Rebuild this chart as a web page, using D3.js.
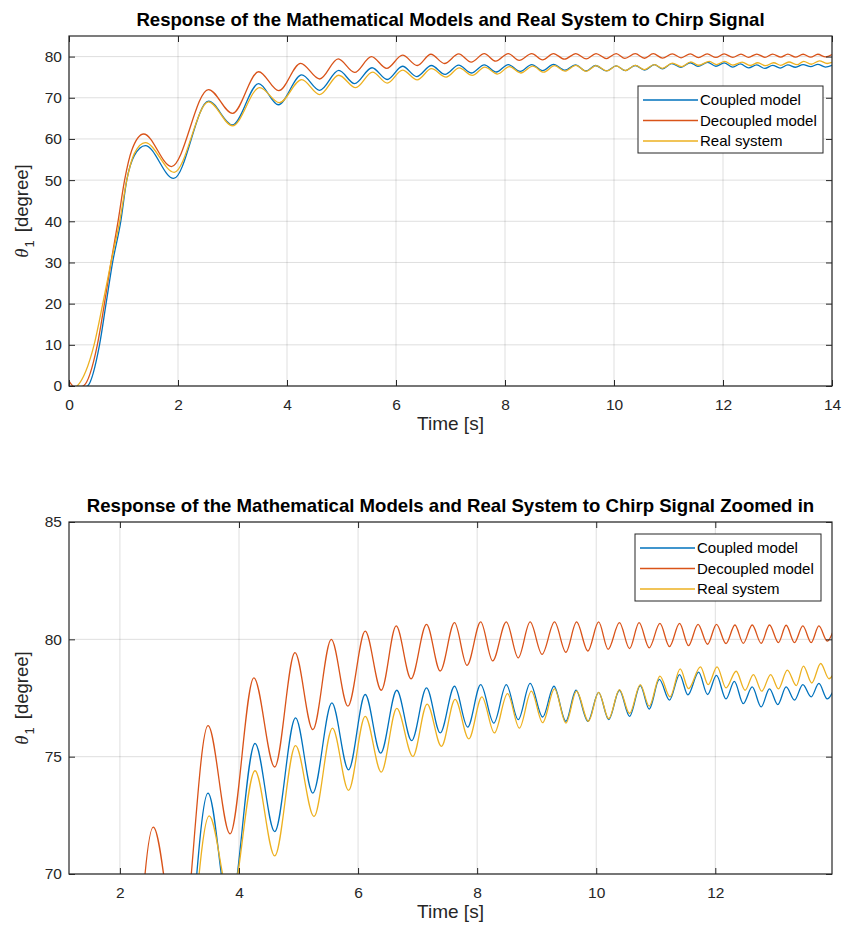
<!DOCTYPE html>
<html>
<head>
<meta charset="utf-8">
<script src="https://cdn.jsdelivr.net/npm/d3@7"></script>
<style>
  body { margin: 0; background: #fff; }
  text { font-family: "Liberation Sans", Arial, sans-serif; }
</style>
</head>
<body>
<svg id="chart" width="843" height="931"></svg>
<script>
// values, [time s, theta1 deg] at turning points
const coupled = [
  [0,-1.5],[0.34,0],[0.56,10],[0.68,20],[0.8,30],[0.95,40],[1.06,50],[1.2,56],[1.4,58.4],
  [1.92,50.4],[2.56,69.2],[3.0,63.4],[3.48,73.45],[3.84,68.3],[4.27,75.56],[4.6,71.81],
  [4.95,76.65],[5.24,73.45],[5.56,77.29],[5.84,74.44],[6.12,77.65],[6.38,75.15],[6.65,77.83],
  [6.9,75.68],[7.15,77.93],[7.38,76.01],[7.62,78.0],[7.84,76.26],[8.06,78.07],[8.28,76.43],
  [8.49,78.07],[8.69,76.58],[8.89,78.12],[9.1,76.69],[9.29,78.0],[9.49,76.51],[9.66,77.83],
  [9.86,76.51],[10.04,77.74],[10.21,76.58],[10.39,77.83],[10.56,76.72],[10.74,78.03],
  [10.89,77.03],[11.06,78.29],[11.23,77.41],[11.4,78.5],[11.54,77.63],[11.72,78.6],
  [11.87,77.65],[12.02,78.46],[12.18,77.46],[12.32,78.21],[12.47,77.26],[12.62,77.97],
  [12.77,77.12],[12.91,77.89],[13.05,77.22],[13.19,77.97],[13.33,77.41],[13.47,78.07],
  [13.61,77.55],[13.74,78.12],[13.88,77.46],[14.0,77.9]
]
const decoupled = [
  [0,1.2],[0.12,-0.4],[0.26,0],[0.52,10],[0.65,20],[0.77,30],[0.9,40],[1.02,50],[1.15,57.2],
  [1.37,61.2],[1.88,53.3],[2.56,72.0],[3.0,66.2],[3.48,76.32],[3.85,71.71],[4.25,78.36],
  [4.6,74.56],[4.94,79.43],[5.24,76.15],[5.55,80.0],[5.83,77.15],[6.12,80.35],[6.39,77.83],
  [6.64,80.57],[6.89,78.32],[7.15,80.64],[7.38,78.65],[7.62,80.71],[7.83,78.89],[8.06,80.74],
  [8.26,79.08],[8.49,80.74],[8.69,79.21],[8.89,80.74],[9.09,79.36],[9.3,80.74],[9.49,79.45],
  [9.67,80.74],[9.86,79.5],[10.04,80.74],[10.2,79.57],[10.39,80.71],[10.56,79.6],[10.72,80.71],
  [10.89,79.64],[11.07,80.68],[11.23,79.69],[11.4,80.68],[11.55,79.73],[11.71,80.64],
  [11.87,79.79],[12.02,80.64],[12.18,79.82],[12.33,80.61],[12.47,79.83],[12.62,80.61],
  [12.77,79.83],[12.91,80.61],[13.06,79.86],[13.19,80.6],[13.33,79.86],[13.47,80.57],
  [13.61,79.86],[13.74,80.57],[13.88,79.92],[14.0,80.5]
]
const realSystem = [
  [0,-1],[0.15,0],[0.46,10],[0.62,20],[0.77,30],[0.93,40],[1.06,50],[1.2,56.5],[1.4,59.1],
  [1.93,51.9],[2.56,69.0],[3.0,63.2],[3.5,72.48],[3.86,68.8],[4.27,74.4],[4.6,70.77],
  [4.95,75.47],[5.26,72.45],[5.57,76.22],[5.84,73.56],[6.12,76.72],[6.39,74.34],[6.65,77.06],
  [6.92,75.01],[7.16,77.24],[7.4,75.44],[7.63,77.44],[7.86,75.76],[8.08,77.55],[8.29,76.01],
  [8.51,77.69],[8.71,76.22],[8.91,77.79],[9.1,76.45],[9.3,77.89],[9.49,76.43],[9.67,77.79],
  [9.87,76.51],[10.04,77.74],[10.21,76.62],[10.39,77.86],[10.56,76.84],[10.74,78.07],
  [10.89,77.15],[11.07,78.43],[11.24,77.55],[11.41,78.74],[11.55,77.9],[11.75,78.83],
  [11.88,78.07],[12.03,78.83],[12.18,77.93],[12.35,78.64],[12.5,77.83],[12.64,78.5],
  [12.78,77.79],[12.93,78.5],[13.06,77.89],[13.21,78.69],[13.36,78.03],[13.48,78.86],
  [13.62,78.14],[13.77,78.97],[13.91,78.32],[14.0,78.6]
]

const seriesNames = ["Coupled model", "Decoupled model", "Real system"]
const seriesColors = ["#0072BD", "#D95319", "#EDB120"]
const seriesData = [coupled, decoupled, realSystem]

const topXTicks = [0, 2, 4, 6, 8, 10, 12, 14]
const topYTicks = [0, 10, 20, 30, 40, 50, 60, 70, 80]
const zoomXTicks = [2, 4, 6, 8, 10, 12]
const zoomYTicks = [70, 75, 80, 85]

const axisColor = "#262626"
const svg = d3.select("#chart")

// one MATLAB-style axes box with grid, inward ticks, legend
function drawPanel(opts) {
  const {id, left, right, top, bottom, xDomain, yDomain, xTicks, yTicks, title, legendBox} = opts
  const x = d3.scaleLinear().domain(xDomain).range([left, right])
  const y = d3.scaleLinear().domain(yDomain).range([bottom, top])
  const g = svg.append("g").attr("class", "panel-" + id)

  // grid
  g.append("g").selectAll("line").data(xTicks).join("line")
    .attr("x1", d => x(d)).attr("x2", d => x(d)).attr("y1", top).attr("y2", bottom)
    .attr("stroke", axisColor).attr("stroke-opacity", 0.15)
  g.append("g").selectAll("line").data(yTicks).join("line")
    .attr("y1", d => y(d)).attr("y2", d => y(d)).attr("x1", left).attr("x2", right)
    .attr("stroke", axisColor).attr("stroke-opacity", 0.15)

  // data lines, clipped to the box
  g.append("clipPath").attr("id", "clip-" + id)
    .append("rect").attr("x", left).attr("y", top).attr("width", right - left).attr("height", bottom - top)
  const line = d3.line().x(d => x(d[0])).y(d => y(d[1])).curve(d3.curveMonotoneX)
  g.append("g").attr("clip-path", `url(#clip-${id})`)
    .selectAll("path").data(seriesData).join("path")
      .attr("d", line)
      .attr("fill", "none")
      .attr("stroke", (_, i) => seriesColors[i])
      .attr("stroke-width", 1.3)

  // axes: bottom/left with labels, top/right ticks only
  const tk = 6
  g.append("g").attr("transform", `translate(0,${bottom})`)
    .call(d3.axisBottom(x).tickValues(xTicks).tickSizeInner(-tk).tickSizeOuter(0).tickPadding(13))
  g.append("g").attr("transform", `translate(${left},0)`)
    .call(d3.axisLeft(y).tickValues(yTicks).tickSizeInner(-tk).tickSizeOuter(0).tickPadding(7))
  g.append("g").attr("transform", `translate(0,${top})`)
    .call(d3.axisTop(x).tickValues(xTicks).tickSizeInner(-tk).tickSizeOuter(0).tickFormat(""))
  g.append("g").attr("transform", `translate(${right},0)`)
    .call(d3.axisRight(y).tickValues(yTicks).tickSizeInner(-tk).tickSizeOuter(0).tickFormat(""))
  g.selectAll(".domain").remove()
  g.selectAll(".tick line").attr("stroke", axisColor)
  g.selectAll(".tick text").attr("fill", axisColor).style("font-size", "15.5px")
    .style("font-family", "'Liberation Sans', Arial, sans-serif")

  g.append("rect").attr("x", left).attr("y", top).attr("width", right - left).attr("height", bottom - top)
    .attr("fill", "none").attr("stroke", axisColor).attr("stroke-width", 1.2)

  // title and labels
  g.append("text").attr("x", (left + right) / 2).attr("y", top - 10)
    .attr("text-anchor", "middle").attr("fill", "#000")
    .style("font-size", "18.6px").style("font-weight", "bold").text(title)
  g.append("text").attr("x", (left + right) / 2).attr("y", bottom + 44)
    .attr("text-anchor", "middle").attr("fill", axisColor)
    .style("font-size", "19px").text("Time [s]")
  const yt = g.append("text")
    .attr("transform", `translate(28,${(top + bottom) / 2}) rotate(-90)`)
    .attr("text-anchor", "middle").attr("fill", axisColor).style("font-size", "18.5px")
  yt.append("tspan").style("font-style", "italic").style("font-family", "'Liberation Serif', serif").text("θ")
  yt.append("tspan").attr("dy", 6).attr("dx", 1).style("font-size", "13px").text("1")
  yt.append("tspan").attr("dy", -6).attr("dx", 3).text(" [degree]")

  // legend
  const lg = g.append("g").attr("transform", `translate(${legendBox.x},${legendBox.y})`)
  lg.append("rect").attr("width", legendBox.w).attr("height", legendBox.h)
    .attr("fill", "#fff").attr("stroke", axisColor).attr("stroke-width", 1)
  const rows = lg.selectAll("g").data(seriesNames).join("g")
    .attr("transform", (_, i) => `translate(0,${14 + i * 20.5})`)
  rows.append("line").attr("x1", 5).attr("x2", 60)
    .attr("stroke", (_, i) => seriesColors[i]).attr("stroke-width", 1.3)
  rows.append("text").attr("x", 62).attr("dy", "0.36em").attr("fill", "#000")
    .style("font-size", "15px").text(d => d)
}

drawPanel({
  id: "full", left: 69, right: 832, top: 36, bottom: 386,
  xDomain: [0, 14], yDomain: [0, 85], xTicks: topXTicks, yTicks: topYTicks,
  title: "Response of the Mathematical Models and Real System to Chirp Signal",
  legendBox: {x: 638, y: 86, w: 185, h: 67}
})

drawPanel({
  id: "zoom", left: 69, right: 832, top: 522, bottom: 874,
  xDomain: [1.145, 13.96], yDomain: [70, 85], xTicks: zoomXTicks, yTicks: zoomYTicks,
  title: "Response of the Mathematical Models and Real System to Chirp Signal Zoomed in",
  legendBox: {x: 635, y: 534, w: 186, h: 67}
})
</script>
</body>
</html>
